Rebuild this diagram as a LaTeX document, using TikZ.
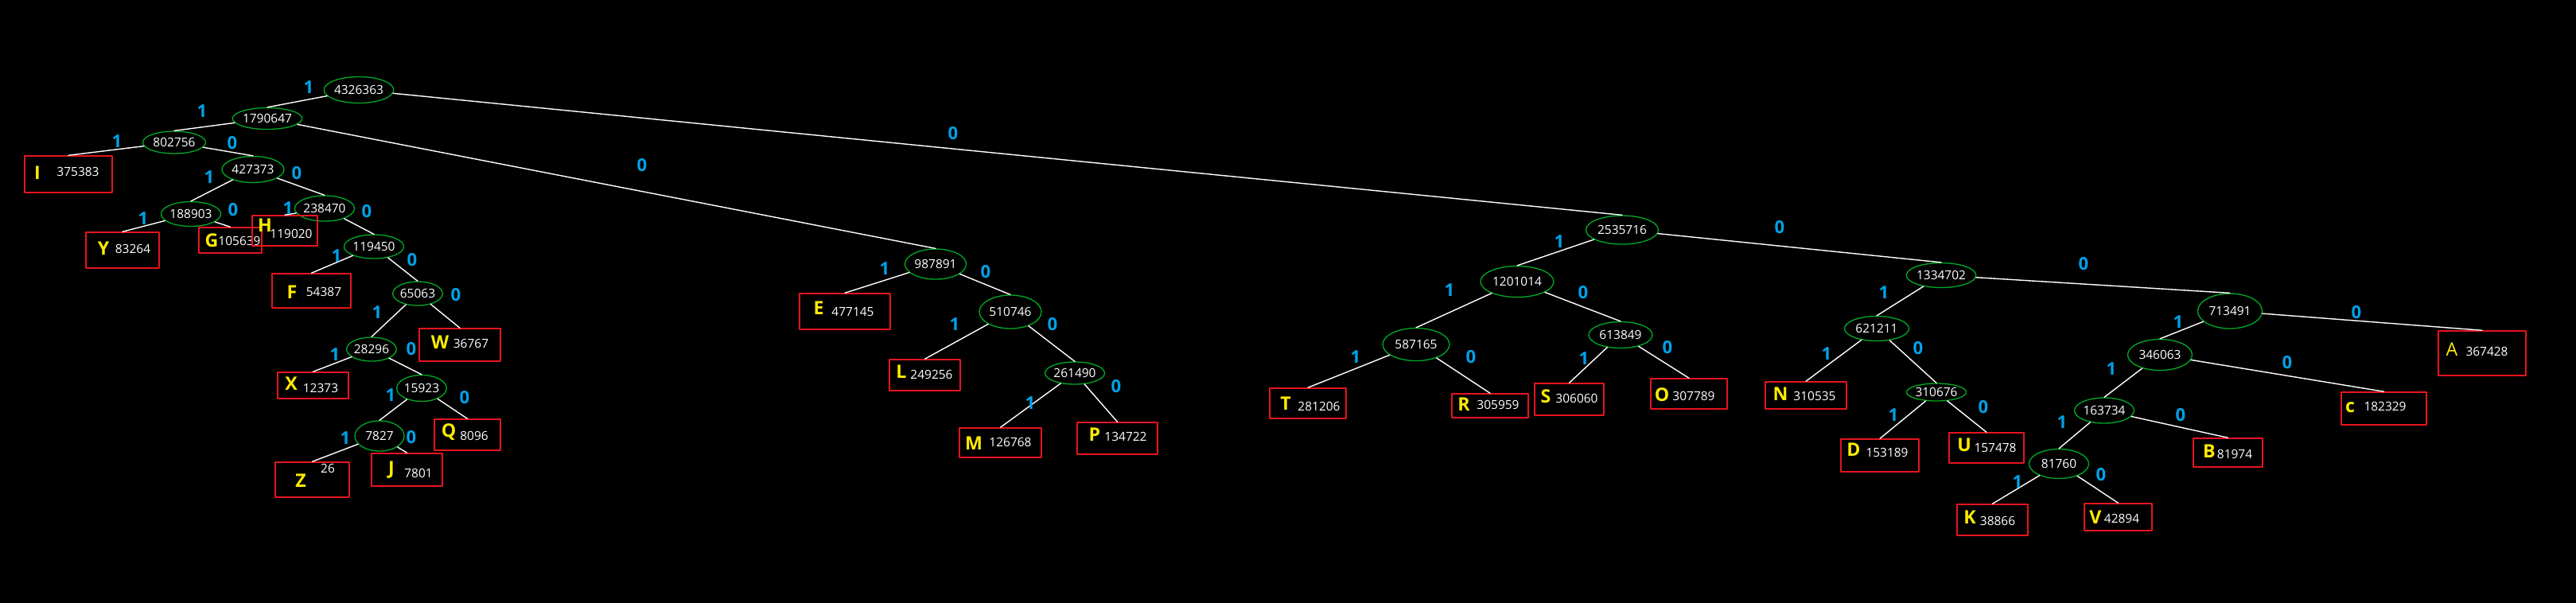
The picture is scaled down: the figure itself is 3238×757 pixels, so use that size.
\documentclass[tikz,border=0pt]{standalone}
\usepackage{fontspec}
\setmainfont{Open Sans}
\usetikzlibrary{shapes.geometric}
\definecolor{bitblue}{RGB}{0,162,232}
\definecolor{knotgreen}{RGB}{0,170,40}
\definecolor{boxred}{RGB}{230,20,30}
\definecolor{symbyellow}{RGB}{255,235,0}

\begin{document}
\begin{tikzpicture}[line cap=round,line join=round,x=0.1mm,y=-0.1mm,
  knot/.style 2 args={ellipse,draw=knotgreen,line width=0.13mm,inner sep=0pt,
    minimum width=#1mm,minimum height=#2mm,text=white,font=\fontsize{4.4}{5}\selectfont},
  leaf/.style 2 args={draw=boxred,line width=0.15mm,inner sep=0pt,
    minimum width=#1mm,minimum height=#2mm},
  symb/.style={text=symbyellow,inner sep=0pt,font=\fontsize{6.6}{7}\selectfont\bfseries},
  weight/.style={text=white,inner sep=0pt,font=\fontsize{4.4}{5}\selectfont},
  bit/.style={text=bitblue,inner sep=0pt,font=\fontsize{6.3}{7}\selectfont\bfseries},
  branch/.style={draw=white,line width=0.14mm}]
\useasboundingbox (0,0) rectangle (3238,757);
\fill[black] (-20,-20) rectangle (3258,777);
% inner knots
\node[knot={8.5}{3.3}] (n4326363) at (451,113) {4326363};
\node[knot={8.0}{2.7}] (n1790647) at (336,149) {1790647};
\node[knot={7.9}{2.8}] (n802756) at (219,179) {802756};
\node[knot={7.8}{3.3}] (n427373) at (318,213) {427373};
\node[knot={6.5}{3.1}] (n188903) at (240,269) {188903};
\node[knot={7.1}{3.2}] (n238470) at (408,262) {238470};
\node[knot={7.4}{3.0}] (n119450) at (470,310) {119450};
\node[knot={5.9}{3.0}] (n65063) at (525,369) {65063};
\node[knot={5.9}{3.0}] (n28296) at (467,439) {28296};
\node[knot={6.2}{3.3}] (n15923) at (530,488) {15923};
\node[knot={6.2}{3.8}] (n7827) at (477,548) {7827};
\node[knot={7.7}{3.8}] (n987891) at (1176,332) {987891};
\node[knot={7.8}{4.2}] (n510746) at (1270,392) {510746};
\node[knot={7.2}{2.8}] (n261490) at (1351,469) {261490};
\node[knot={9.1}{3.6}] (n2535716) at (2039,289) {2535716};
\node[knot={9.2}{3.9}] (n1201014) at (1907,354) {1201014};
\node[knot={8.4}{4.1}] (n587165) at (1780,433) {587165};
\node[knot={8.0}{3.3}] (n613849) at (2037,421) {613849};
\node[knot={8.3}{3.1}] (n1334702) at (2440,346) {1334702};
\node[knot={8.1}{3.1}] (n621211) at (2359,413) {621211};
\node[knot={7.3}{2.2}] (n310676) at (2434,493) {310676};
\node[knot={8.1}{4.4}] (n713491) at (2803,391) {713491};
\node[knot={8.1}{3.9}] (n346063) at (2715,446) {346063};
\node[knot={7.3}{3.2}] (n163734) at (2645,516) {163734};
\node[knot={7.5}{3.7}] (n81760) at (2588,583) {81760};
% leaves
\node[leaf={11.0}{4.6}] (lI) at (86,219) {};
\node[symb] (sI) at (47,217) {I};
\node[weight] (wI) at (98,216) {375383};
\node[leaf={9.2}{4.5}] (lY) at (154,314.5) {};
\node[symb] (sY) at (130,312) {Y};
\node[weight] (wY) at (167,313) {83264};
\node[leaf={7.9}{3.2}] (lG) at (289.5,302) {};
\node[symb] (sG) at (266,302) {G};
\node[weight] (wG) at (301,303) {105639};
\node[leaf={8.2}{3.8}] (lH) at (358,290) {};
\node[symb] (sH) at (333,283) {H};
\node[weight] (wH) at (366,294) {119020};
\node[leaf={9.9}{4.3}] (lF) at (391.5,365.5) {};
\node[symb] (sF) at (367,367) {F};
\node[weight] (wF) at (407,367) {54387};
\node[leaf={10.2}{4.1}] (lW) at (578,433.5) {};
\node[symb] (sW) at (553,430) {W};
\node[weight] (wW) at (592,432) {36767};
\node[leaf={8.9}{3.3}] (lX) at (393.5,484.5) {};
\node[symb] (sX) at (366,482) {X};
\node[weight] (wX) at (403,488) {12373};
\node[leaf={8.3}{3.9}] (lQ) at (587.5,546.5) {};
\node[symb] (sQ) at (564,543) {Q};
\node[weight] (wQ) at (596,548) {8096};
\node[leaf={9.3}{4.4}] (lZ) at (392.5,603) {};
\node[symb] (sZ) at (378,604) {Z};
\node[weight] (wZ) at (412,589) {26};
\node[leaf={8.9}{4.1}] (lJ) at (511.5,590.5) {};
\node[symb] (sJ) at (492,591) {J};
\node[weight] (wJ) at (526,595) {7801};
\node[leaf={11.4}{4.5}] (lE) at (1062,391.5) {};
\node[symb] (sE) at (1029,387) {E};
\node[weight] (wE) at (1072,392) {477145};
\node[leaf={8.9}{3.9}] (lL) at (1162.5,471.5) {};
\node[symb] (sL) at (1133,467) {L};
\node[weight] (wL) at (1171,471) {249256};
\node[leaf={10.3}{3.7}] (lM) at (1257.5,556.5) {};
\node[symb] (sM) at (1224,557) {M};
\node[weight] (wM) at (1270,556) {126768};
\node[leaf={10.1}{4.0}] (lP) at (1404.5,551) {};
\node[symb] (sP) at (1376,546) {P};
\node[weight] (wP) at (1415,549) {134722};
\node[leaf={9.6}{3.8}] (lT) at (1644,507) {};
\node[symb] (sT) at (1616,507) {T};
\node[weight] (wT) at (1658,511) {281206};
\node[leaf={9.6}{3.0}] (lR) at (1873,510) {};
\node[symb] (sR) at (1840,508) {R};
\node[weight] (wR) at (1883,509) {305959};
\node[leaf={8.7}{4.0}] (lS) at (1972.5,502) {};
\node[symb] (sS) at (1943,498) {S};
\node[weight] (wS) at (1982,501) {306060};
\node[leaf={9.6}{3.8}] (lO) at (2123,495) {};
\node[symb] (sO) at (2089,496) {O};
\node[weight] (wO) at (2129,498) {307789};
\node[leaf={10.2}{3.4}] (lN) at (2270,497) {};
\node[symb] (sN) at (2238,495) {N};
\node[weight] (wN) at (2281,498) {310535};
\node[leaf={9.8}{4.1}] (lD) at (2363,572.5) {};
\node[symb] (sD) at (2330,565) {D};
\node[weight] (wD) at (2372,569) {153189};
\node[leaf={9.4}{3.8}] (lU) at (2497,563) {};
\node[symb] (sU) at (2469,559) {U};
\node[weight] (wU) at (2508,563) {157478};
\node[leaf={11.0}{5.6}] (lA) at (3120,444) {};
\node[symb,font=\fontsize{6.6}{7}\selectfont] (sA) at (3082,439) {A};
\node[weight] (wA) at (3126,442) {367428};
\node[leaf={10.7}{4.1}] (lc) at (2996.5,513.5) {};
\node[symb] (sc) at (2954,512) {c};
\node[weight] (wc) at (2998,511) {182329};
\node[leaf={8.7}{3.6}] (lB) at (2800.5,569) {};
\node[symb] (sB) at (2777,567) {B};
\node[weight] (wB) at (2809,571) {81974};
\node[leaf={8.9}{3.9}] (lK) at (2504.5,653.5) {};
\node[symb] (sK) at (2476,650) {K};
\node[weight] (wK) at (2511,655) {38866};
\node[leaf={8.5}{3.4}] (lV) at (2662.5,650) {};
\node[symb] (sV) at (2634,650) {V};
\node[weight] (wV) at (2667,652) {42894};
% branches
\foreach \p/\c in {n4326363/n1790647,n4326363/n2535716,n1790647/n802756,n1790647/n987891,
  n802756/lI,n802756/n427373,n427373/n188903,n427373/n238470,n188903/lY,n188903/lG,
  n238470/lH,n238470/n119450,n119450/lF,n119450/n65063,n65063/n28296,n65063/lW,
  n28296/lX,n28296/n15923,n15923/n7827,n15923/lQ,n7827/lZ,n7827/lJ,
  n987891/lE,n987891/n510746,n510746/lL,n510746/n261490,n261490/lM,n261490/lP,
  n2535716/n1201014,n2535716/n1334702,n1201014/n587165,n1201014/n613849,
  n587165/lT,n587165/lR,n613849/lS,n613849/lO,
  n1334702/n621211,n1334702/n713491,n621211/lN,n621211/n310676,n310676/lD,n310676/lU,
  n713491/n346063,n713491/lA,n346063/n163734,n346063/lc,n163734/n81760,n163734/lB,
  n81760/lK,n81760/lV}
  \draw[branch] (\p) -- (\c.north);
% bits
\foreach \x/\y/\t [count=\i] in {388/110/1,1198/168/0,254/140/1,807/208/0,
  147/178/1,292/180/0,263/223/1,373/218/0,180/275/1,293/264/0,362/262/1,461/266/0,
  423/322/1,518/327/0,474/393/1,573/371/0,421/446/1,517/439/0,491/497/1,584/500/0,
  434/551/1,517/550/0,1112/338/1,1239/342/0,1200/408/1,1323/408/0,1295/507/1,1403/486/0,
  1960/304/1,2237/286/0,1822/365/1,1990/368/0,1704/449/1,1849/449/0,1991/451/1,2096/437/0,
  2368/368/1,2619/332/0,2296/445/1,2411/438/0,2380/522/1,2493/512/0,
  2738/405/1,2962/393/0,2654/464/1,2875/456/0,2592/531/1,2741/522/0,2536/606/1,2641/597/0}
  \node[bit] (bit\i) at (\x,\y) {\t};
\end{tikzpicture}
\end{document}
